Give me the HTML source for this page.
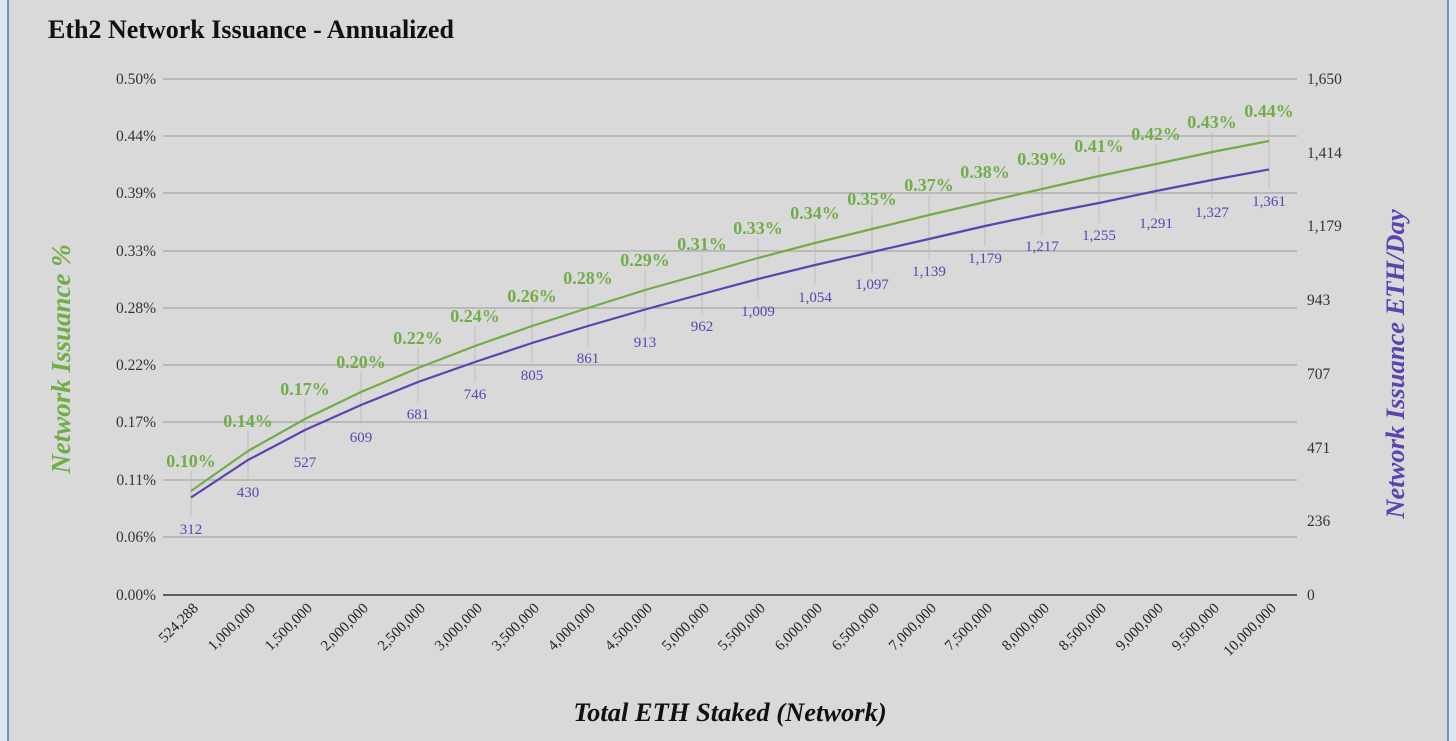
<!DOCTYPE html>
<html><head><meta charset="utf-8"><style>
html,body{margin:0;padding:0;background:#fff;}
svg{display:block;font-family:"Liberation Serif",serif;}
</style></head><body>
<svg width="1456" height="741" viewBox="0 0 1456 741">
<rect x="0" y="0" width="1456" height="741" fill="#dfe6ee"/>
<rect x="8" y="-2" width="1440" height="745" fill="#d9d9d9" stroke="#4a78b8" stroke-width="1.5"/>
<text x="48" y="38" font-size="26" font-weight="bold" fill="#111">Eth2 Network Issuance - Annualized</text>
<g stroke="#a6a6a6" stroke-width="1.3">
<line x1="163" y1="79" x2="1297" y2="79"/><line x1="163" y1="136" x2="1297" y2="136"/><line x1="163" y1="193" x2="1297" y2="193"/><line x1="163" y1="251" x2="1297" y2="251"/><line x1="163" y1="308" x2="1297" y2="308"/><line x1="163" y1="365" x2="1297" y2="365"/><line x1="163" y1="422" x2="1297" y2="422"/><line x1="163" y1="480" x2="1297" y2="480"/><line x1="163" y1="537" x2="1297" y2="537"/>
</g>
<line x1="163" y1="595" x2="1297" y2="595" stroke="#111" stroke-width="1.3"/>
<g font-size="15.5" fill="#333" text-anchor="end">
<text x="156" y="84">0.50%</text><text x="156" y="141">0.44%</text><text x="156" y="198">0.39%</text><text x="156" y="256">0.33%</text><text x="156" y="313">0.28%</text><text x="156" y="370">0.22%</text><text x="156" y="427">0.17%</text><text x="156" y="485">0.11%</text><text x="156" y="542">0.06%</text><text x="156" y="600">0.00%</text>
</g>
<g font-size="15.5" fill="#333">
<text x="1307" y="84">1,650</text><text x="1307" y="158">1,414</text><text x="1307" y="231">1,179</text><text x="1307" y="305">943</text><text x="1307" y="379">707</text><text x="1307" y="453">471</text><text x="1307" y="526">236</text><text x="1307" y="600">0</text>
</g>
<g stroke="#bdbdbd" stroke-width="1">
<line x1="191" y1="471" x2="191" y2="517"/><line x1="248" y1="431" x2="248" y2="480"/><line x1="305" y1="399" x2="305" y2="450"/><line x1="361" y1="372" x2="361" y2="425"/><line x1="418" y1="348" x2="418" y2="402"/><line x1="475" y1="326" x2="475" y2="382"/><line x1="532" y1="306" x2="532" y2="363"/><line x1="588" y1="288" x2="588" y2="346"/><line x1="645" y1="270" x2="645" y2="330"/><line x1="702" y1="254" x2="702" y2="314"/><line x1="758" y1="238" x2="758" y2="299"/><line x1="815" y1="223" x2="815" y2="285"/><line x1="872" y1="209" x2="872" y2="272"/><line x1="929" y1="195" x2="929" y2="259"/><line x1="985" y1="182" x2="985" y2="246"/><line x1="1042" y1="169" x2="1042" y2="234"/><line x1="1099" y1="156" x2="1099" y2="223"/><line x1="1156" y1="144" x2="1156" y2="211"/><line x1="1212" y1="132" x2="1212" y2="200"/><line x1="1269" y1="121" x2="1269" y2="189"/>
</g>
<polyline fill="none" stroke="#70ad47" stroke-width="2.2" points="191,491 248,451 305,419 361,392 418,368 475,346 532,326 588,308 645,290 702,274 758,258 815,243 872,229 929,215 985,202 1042,189 1099,176 1156,164 1212,152 1269,141"/>
<polyline fill="none" stroke="#5b43b0" stroke-width="2.2" points="191,497.5 248,460 305,430 361,405 418,382 475,362 532,343 588,326 645,309.5 702,294 758,279 815,265 872,252 929,239 985,226 1042,214 1099,203 1156,191 1212,180 1269,169.4"/>
<g font-size="18" font-weight="bold" fill="#70ad47" text-anchor="middle">
<text x="191" y="467">0.10%</text><text x="248" y="427">0.14%</text><text x="305" y="395">0.17%</text><text x="361" y="368">0.20%</text><text x="418" y="344">0.22%</text><text x="475" y="322">0.24%</text><text x="532" y="302">0.26%</text><text x="588" y="284">0.28%</text><text x="645" y="266">0.29%</text><text x="702" y="250">0.31%</text><text x="758" y="234">0.33%</text><text x="815" y="219">0.34%</text><text x="872" y="205">0.35%</text><text x="929" y="191">0.37%</text><text x="985" y="178">0.38%</text><text x="1042" y="165">0.39%</text><text x="1099" y="152">0.41%</text><text x="1156" y="140">0.42%</text><text x="1212" y="128">0.43%</text><text x="1269" y="117">0.44%</text>
</g>
<g font-size="15" fill="#5b43b0" text-anchor="middle">
<text x="191" y="534">312</text><text x="248" y="497">430</text><text x="305" y="467">527</text><text x="361" y="442">609</text><text x="418" y="419">681</text><text x="475" y="399">746</text><text x="532" y="380">805</text><text x="588" y="363">861</text><text x="645" y="347">913</text><text x="702" y="331">962</text><text x="758" y="316">1,009</text><text x="815" y="302">1,054</text><text x="872" y="289">1,097</text><text x="929" y="276">1,139</text><text x="985" y="263">1,179</text><text x="1042" y="251">1,217</text><text x="1099" y="240">1,255</text><text x="1156" y="228">1,291</text><text x="1212" y="217">1,327</text><text x="1269" y="206">1,361</text>
</g>
<g font-size="15" fill="#222" text-anchor="end">
<text transform="translate(199,609) rotate(-45)">524,288</text><text transform="translate(256,609) rotate(-45)">1,000,000</text><text transform="translate(313,609) rotate(-45)">1,500,000</text><text transform="translate(369,609) rotate(-45)">2,000,000</text><text transform="translate(426,609) rotate(-45)">2,500,000</text><text transform="translate(483,609) rotate(-45)">3,000,000</text><text transform="translate(540,609) rotate(-45)">3,500,000</text><text transform="translate(596,609) rotate(-45)">4,000,000</text><text transform="translate(653,609) rotate(-45)">4,500,000</text><text transform="translate(710,609) rotate(-45)">5,000,000</text><text transform="translate(766,609) rotate(-45)">5,500,000</text><text transform="translate(823,609) rotate(-45)">6,000,000</text><text transform="translate(880,609) rotate(-45)">6,500,000</text><text transform="translate(937,609) rotate(-45)">7,000,000</text><text transform="translate(993,609) rotate(-45)">7,500,000</text><text transform="translate(1050,609) rotate(-45)">8,000,000</text><text transform="translate(1107,609) rotate(-45)">8,500,000</text><text transform="translate(1164,609) rotate(-45)">9,000,000</text><text transform="translate(1220,609) rotate(-45)">9,500,000</text><text transform="translate(1277,609) rotate(-45)">10,000,000</text>
</g>
<text transform="translate(70,359) rotate(-90)" font-size="27" font-weight="bold" font-style="italic" fill="#70ad47" text-anchor="middle">Network Issuance %</text>
<text transform="translate(1404,364) rotate(-90)" font-size="26.5" font-weight="bold" font-style="italic" fill="#5b43b0" text-anchor="middle">Network Issuance ETH/Day</text>
<text x="730" y="721" font-size="26.5" font-weight="bold" font-style="italic" fill="#111" text-anchor="middle">Total ETH Staked (Network)</text>
</svg>
</body></html>
